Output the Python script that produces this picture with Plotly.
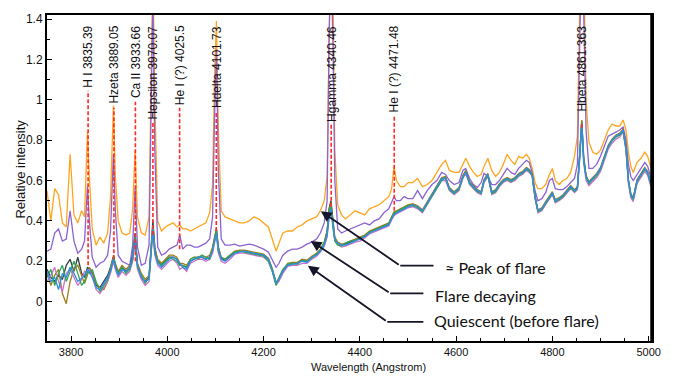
import plotly.graph_objects as go

# ---------------- data ----------------
wavelength = [
    3750, 3758, 3766, 3774, 3782, 3790, 3798, 3806, 3814, 3822,
    3828, 3834, 3838, 3844, 3852, 3860, 3868, 3876, 3882, 3888,
    3892, 3898, 3906, 3914, 3922, 3928, 3933, 3938, 3946, 3954,
    3962, 3966, 3970, 3974, 3980, 3988, 3996, 4004, 4012, 4020,
    4026, 4032, 4040, 4048, 4056, 4064, 4072, 4080, 4088, 4094,
    4098, 4102, 4106, 4112, 4120, 4130, 4140, 4150, 4160, 4170,
    4180, 4190, 4200, 4210, 4218, 4226, 4232, 4240, 4250, 4260,
    4270, 4280, 4290, 4300, 4310, 4318, 4326, 4332, 4336, 4340,
    4344, 4348, 4354, 4362, 4370, 4380, 4390, 4400, 4410, 4420,
    4430, 4440, 4450, 4460, 4466, 4471, 4476, 4484, 4492, 4500,
    4510, 4520, 4530, 4540, 4550, 4560, 4570, 4578, 4586, 4596,
    4606, 4614, 4620, 4628, 4636, 4644, 4652, 4658, 4666, 4674,
    4682, 4690, 4698, 4706, 4714, 4722, 4730, 4738, 4746, 4752,
    4758, 4764, 4770, 4778, 4786, 4794, 4800, 4806, 4814, 4822,
    4830, 4838, 4846, 4852, 4857, 4861, 4865, 4870, 4876, 4884,
    4892, 4900, 4908, 4916, 4924, 4932, 4940, 4947, 4953, 4958,
    4963, 4968, 4976, 4984, 4992, 4998, 5004, 5010,
]

peak_of_flare = [
    0.55, 0.40, 0.56, 0.53, 0.39, 0.37, 0.73, 0.43, 0.39, 0.45,
    0.42, 0.84, 0.62, 0.36, 0.28, 0.32, 0.29, 0.34, 0.52, 0.97,
    0.62, 0.40, 0.34, 0.33, 0.34, 0.46, 0.75, 0.42, 0.34, 0.33,
    0.42, 1.10, 1.65, 1.00, 0.40, 0.35, 0.37, 0.38, 0.39, 0.37,
    0.38, 0.36, 0.36, 0.35, 0.36, 0.37, 0.38, 0.39, 0.44, 0.58,
    1.10, 1.39, 0.85, 0.45, 0.42, 0.41, 0.40, 0.39, 0.39, 0.40,
    0.42, 0.41, 0.39, 0.37, 0.31, 0.25, 0.29, 0.34, 0.35, 0.35,
    0.37, 0.38, 0.40, 0.41, 0.42, 0.45, 0.50, 0.62, 1.50, 1.90,
    1.60, 0.75, 0.48, 0.43, 0.41, 0.43, 0.45, 0.44, 0.43, 0.46,
    0.47, 0.48, 0.50, 0.52, 0.56, 0.67, 0.60, 0.57, 0.57, 0.59,
    0.59, 0.61, 0.57, 0.58, 0.60, 0.64, 0.68, 0.70, 0.65, 0.64,
    0.64, 0.68, 0.71, 0.67, 0.64, 0.62, 0.63, 0.67, 0.71, 0.65,
    0.62, 0.64, 0.68, 0.73, 0.70, 0.68, 0.72, 0.71, 0.73, 0.71,
    0.66, 0.59, 0.56, 0.56, 0.58, 0.63, 0.66, 0.60, 0.58, 0.60,
    0.61, 0.64, 0.72, 0.82, 1.60, 2.00, 1.70, 1.00, 0.79, 0.74,
    0.73, 0.75, 0.80, 0.85, 0.88, 0.87, 0.87, 0.90, 0.85, 0.74,
    0.67, 0.64, 0.69, 0.71, 0.74, 0.72, 0.67, 0.64,
]

flare_decaying = [
    0.25, 0.26, 0.34, 0.36, 0.30, 0.31, 0.45, 0.30, 0.24, 0.26,
    0.30, 0.57, 0.40, 0.22, 0.17, 0.19, 0.20, 0.23, 0.35, 0.73,
    0.45, 0.23, 0.20, 0.19, 0.18, 0.28, 0.56, 0.27, 0.18, 0.19,
    0.28, 0.90, 1.50, 0.75, 0.27, 0.23, 0.24, 0.26, 0.27, 0.28,
    0.33, 0.26, 0.28, 0.28, 0.27, 0.27, 0.28, 0.29, 0.31, 0.42,
    0.90, 1.25, 0.65, 0.31, 0.28, 0.28, 0.285, 0.275, 0.28, 0.285,
    0.28, 0.27, 0.26, 0.245, 0.21, 0.17, 0.19, 0.23, 0.25, 0.26,
    0.26, 0.27, 0.285, 0.295, 0.31, 0.34, 0.39, 0.50, 1.30, 1.70,
    1.30, 0.60, 0.36, 0.34, 0.35, 0.36, 0.37, 0.38, 0.39, 0.38,
    0.40, 0.41, 0.44, 0.46, 0.49, 0.52, 0.50, 0.50, 0.52, 0.51,
    0.51, 0.55, 0.51, 0.55, 0.58, 0.60, 0.64, 0.63, 0.60, 0.58,
    0.59, 0.65, 0.66, 0.61, 0.58, 0.565, 0.59, 0.635, 0.62, 0.58,
    0.58, 0.60, 0.63, 0.66, 0.64, 0.63, 0.66, 0.68, 0.70, 0.69,
    0.64, 0.55, 0.50, 0.51, 0.54, 0.60, 0.61, 0.56, 0.555, 0.555,
    0.57, 0.59, 0.61, 0.68, 1.40, 1.80, 1.45, 0.85, 0.66, 0.66,
    0.68, 0.72, 0.77, 0.82, 0.83, 0.84, 0.85, 0.865, 0.80, 0.68,
    0.62, 0.60, 0.63, 0.66, 0.69, 0.67, 0.62, 0.60,
]

quiescent_blue = [
    0.15, 0.10, 0.12, 0.06, 0.14, 0.12, 0.17, 0.14, 0.10, 0.12,
    0.13, 0.16, 0.15, 0.12, 0.07, 0.06, 0.09, 0.12, 0.15, 0.21,
    0.17, 0.13, 0.16, 0.15, 0.17, 0.22, 0.31, 0.18, 0.12, 0.10,
    0.11, 0.22, 0.36, 0.25, 0.19, 0.17, 0.19, 0.21, 0.22, 0.21,
    0.19, 0.17, 0.16, 0.20, 0.21, 0.22, 0.22, 0.21, 0.22, 0.25,
    0.30, 0.34, 0.26, 0.21, 0.20, 0.22, 0.24, 0.245, 0.25, 0.245,
    0.24, 0.235, 0.23, 0.21, 0.16, 0.09, 0.11, 0.15, 0.18, 0.185,
    0.19, 0.20, 0.195, 0.22, 0.23, 0.25, 0.28, 0.33, 0.42, 0.46,
    0.38, 0.31, 0.29, 0.28, 0.28, 0.29, 0.30, 0.31, 0.32, 0.34,
    0.35, 0.36, 0.37, 0.38, 0.41, 0.43, 0.44, 0.45, 0.46, 0.47,
    0.48, 0.47, 0.45, 0.49, 0.53, 0.57, 0.61, 0.61, 0.56, 0.54,
    0.56, 0.62, 0.64, 0.59, 0.57, 0.55, 0.54, 0.60, 0.63, 0.54,
    0.55, 0.58, 0.60, 0.61, 0.60, 0.61, 0.63, 0.64, 0.66, 0.65,
    0.63, 0.52, 0.45, 0.46, 0.49, 0.52, 0.54, 0.50, 0.51, 0.525,
    0.55, 0.57, 0.55, 0.56, 0.72, 0.88, 0.70, 0.62, 0.59, 0.61,
    0.63, 0.66, 0.71, 0.77, 0.80, 0.82, 0.83, 0.85, 0.76, 0.60,
    0.53, 0.51, 0.60, 0.63, 0.66, 0.64, 0.59, 0.57,
]

quiescent_green = [
    0.12, 0.16, 0.08, 0.14, 0.18, 0.10, 0.15, 0.20, 0.14, 0.08,
    0.10, 0.15, 0.14, 0.16, 0.10, 0.05, 0.08, 0.11, 0.16, 0.22,
    0.18, 0.14, 0.17, 0.14, 0.16, 0.21, 0.33, 0.17, 0.13, 0.09,
    0.12, 0.23, 0.37, 0.24, 0.20, 0.18, 0.20, 0.22, 0.21, 0.20,
    0.18, 0.18, 0.17, 0.21, 0.22, 0.21, 0.23, 0.22, 0.21, 0.26,
    0.31, 0.35, 0.25, 0.22, 0.21, 0.23, 0.245, 0.25, 0.245, 0.24,
    0.235, 0.23, 0.225, 0.20, 0.15, 0.08, 0.12, 0.16, 0.185, 0.19,
    0.185, 0.205, 0.20, 0.215, 0.235, 0.255, 0.29, 0.34, 0.44, 0.48,
    0.37, 0.30, 0.28, 0.275, 0.29, 0.30, 0.305, 0.31, 0.325, 0.345,
    0.355, 0.365, 0.375, 0.385, 0.415, 0.44, 0.445, 0.455, 0.465, 0.475,
    0.475, 0.465, 0.445, 0.485, 0.525, 0.565, 0.60, 0.615, 0.555, 0.535,
    0.555, 0.615, 0.645, 0.585, 0.565, 0.545, 0.535, 0.595, 0.625, 0.535,
    0.545, 0.575, 0.595, 0.605, 0.595, 0.605, 0.625, 0.635, 0.655, 0.645,
    0.625, 0.515, 0.445, 0.455, 0.485, 0.515, 0.535, 0.495, 0.505, 0.52,
    0.545, 0.565, 0.545, 0.565, 0.73, 0.89, 0.71, 0.615, 0.585, 0.605,
    0.625, 0.655, 0.705, 0.765, 0.795, 0.815, 0.825, 0.845, 0.755, 0.595,
    0.525, 0.505, 0.595, 0.625, 0.655, 0.635, 0.585, 0.565,
]

quiescent_magenta = [
    0.10, 0.13, 0.17, 0.10, 0.05, 0.14, 0.16, 0.12, 0.08, 0.11,
    0.15, 0.14, 0.16, 0.13, 0.06, 0.04, 0.07, 0.10, 0.14, 0.20,
    0.16, 0.12, 0.15, 0.13, 0.15, 0.20, 0.30, 0.16, 0.11, 0.08,
    0.10, 0.21, 0.35, 0.23, 0.18, 0.16, 0.18, 0.20, 0.21, 0.19,
    0.16, 0.17, 0.15, 0.19, 0.20, 0.21, 0.21, 0.20, 0.21, 0.24,
    0.29, 0.33, 0.24, 0.20, 0.19, 0.21, 0.235, 0.24, 0.24, 0.235,
    0.23, 0.225, 0.22, 0.20, 0.15, 0.085, 0.10, 0.14, 0.175, 0.18,
    0.18, 0.19, 0.19, 0.21, 0.225, 0.245, 0.275, 0.32, 0.41, 0.45,
    0.37, 0.30, 0.285, 0.27, 0.275, 0.285, 0.295, 0.30, 0.315, 0.335,
    0.345, 0.355, 0.365, 0.375, 0.405, 0.425, 0.435, 0.445, 0.455, 0.465,
    0.47, 0.46, 0.44, 0.48, 0.52, 0.56, 0.60, 0.60, 0.55, 0.53,
    0.55, 0.61, 0.635, 0.58, 0.56, 0.54, 0.53, 0.59, 0.62, 0.53,
    0.54, 0.57, 0.59, 0.60, 0.59, 0.60, 0.62, 0.63, 0.65, 0.64,
    0.62, 0.51, 0.44, 0.45, 0.48, 0.51, 0.53, 0.49, 0.50, 0.515,
    0.54, 0.56, 0.54, 0.555, 0.71, 0.87, 0.69, 0.60, 0.575, 0.595,
    0.615, 0.645, 0.695, 0.755, 0.785, 0.805, 0.815, 0.84, 0.745, 0.585,
    0.515, 0.495, 0.585, 0.615, 0.645, 0.625, 0.575, 0.555,
]

quiescent_olive = [
    0.14, 0.08, 0.13, 0.16, 0.04, -0.01, 0.10, 0.16, 0.18, 0.13,
    0.09, 0.13, 0.17, 0.15, 0.09, 0.07, 0.06, 0.10, 0.17, 0.23,
    0.19, 0.15, 0.18, 0.16, 0.18, 0.21, 0.32, 0.19, 0.14, 0.11,
    0.13, 0.24, 0.38, 0.26, 0.21, 0.19, 0.21, 0.23, 0.23, 0.22,
    0.19, 0.19, 0.18, 0.21, 0.22, 0.22, 0.23, 0.22, 0.23, 0.27,
    0.32, 0.36, 0.27, 0.22, 0.21, 0.23, 0.25, 0.255, 0.255, 0.25,
    0.245, 0.24, 0.235, 0.215, 0.165, 0.095, 0.115, 0.155, 0.19, 0.195,
    0.195, 0.21, 0.205, 0.225, 0.24, 0.26, 0.295, 0.35, 0.45, 0.49,
    0.39, 0.32, 0.295, 0.285, 0.29, 0.30, 0.31, 0.32, 0.33, 0.35,
    0.36, 0.37, 0.38, 0.39, 0.42, 0.445, 0.45, 0.46, 0.47, 0.48,
    0.485, 0.475, 0.455, 0.495, 0.535, 0.575, 0.615, 0.62, 0.565, 0.545,
    0.565, 0.625, 0.65, 0.595, 0.575, 0.555, 0.545, 0.605, 0.635, 0.545,
    0.555, 0.585, 0.605, 0.615, 0.605, 0.615, 0.635, 0.645, 0.665, 0.655,
    0.635, 0.525, 0.455, 0.465, 0.495, 0.525, 0.545, 0.505, 0.515, 0.53,
    0.555, 0.575, 0.555, 0.57, 0.74, 0.90, 0.72, 0.625, 0.595, 0.615,
    0.635, 0.665, 0.715, 0.775, 0.805, 0.825, 0.835, 0.855, 0.765, 0.605,
    0.535, 0.515, 0.605, 0.635, 0.665, 0.645, 0.595, 0.575,
]

quiescent_dark = [
    0.16, 0.12, 0.10, 0.13, 0.11, 0.18, 0.21, 0.15, 0.22, 0.14,
    0.12, 0.17, 0.16, 0.14, 0.08, 0.07, 0.10, 0.13, 0.17, 0.22,
    0.18, 0.14, 0.17, 0.15, 0.17, 0.23, 0.34, 0.18, 0.12, 0.10,
    0.12, 0.25, 0.40, 0.27, 0.20, 0.18, 0.20, 0.22, 0.22, 0.21,
    0.18, 0.18, 0.17, 0.20, 0.21, 0.22, 0.22, 0.21, 0.22, 0.26,
    0.31, 0.36, 0.27, 0.215, 0.205, 0.225, 0.245, 0.25, 0.25, 0.245,
    0.24, 0.235, 0.23, 0.21, 0.16, 0.09, 0.11, 0.15, 0.185, 0.19,
    0.19, 0.205, 0.20, 0.22, 0.235, 0.255, 0.29, 0.35, 0.46, 0.50,
    0.39, 0.31, 0.29, 0.28, 0.285, 0.295, 0.305, 0.315, 0.325, 0.345,
    0.355, 0.365, 0.375, 0.385, 0.415, 0.435, 0.445, 0.455, 0.465, 0.475,
    0.48, 0.47, 0.45, 0.49, 0.53, 0.57, 0.61, 0.615, 0.56, 0.54,
    0.56, 0.62, 0.645, 0.59, 0.57, 0.55, 0.54, 0.60, 0.63, 0.54,
    0.55, 0.58, 0.60, 0.61, 0.60, 0.61, 0.63, 0.64, 0.66, 0.65,
    0.63, 0.52, 0.45, 0.46, 0.49, 0.52, 0.54, 0.50, 0.51, 0.525,
    0.55, 0.57, 0.55, 0.565, 0.735, 0.895, 0.715, 0.62, 0.59, 0.61,
    0.63, 0.66, 0.71, 0.77, 0.80, 0.82, 0.83, 0.85, 0.76, 0.60,
    0.53, 0.51, 0.60, 0.63, 0.66, 0.64, 0.59, 0.57,
]

line_labels = ["H I 3835.39", "Hzeta 3889.05", "Ca II 3933.66", "Hepsilon 3970.07",
               "He I (?) 4025.5", "Hdelta 4101.73", "Hgamma 4340.46",
               "He I (?) 4471.48", "Hbeta 4861.363"]
line_wavelengths = [3835.39, 3889.05, 3933.66, 3970.07, 4025.5, 4101.73,
                    4340.46, 4471.48, 4861.363]
marker_bottom = [0.18, 0.21, 0.20, 0.33, 0.26, 0.35, 0.47, 0.45, 0.86]
marker_top = [1.045, 0.96, 0.99, 0.885, 0.96, 0.94, 0.885, 0.92, 0.885]

x_ticks = [3800, 4000, 4200, 4400, 4600, 4800, 5000]
y_ticks = [0, 0.2, 0.4, 0.6, 0.8, 1, 1.2, 1.4]

series = [
    ("Peak of flare", peak_of_flare, "#ffa51f"),
    ("Flare decaying", flare_decaying, "#8c63d2"),
    ("Quiescent 5", quiescent_dark, "#2d403f"),
    ("Quiescent 1", quiescent_olive, "#a07d1c"),
    ("Quiescent 2", quiescent_magenta, "#cc6fcc"),
    ("Quiescent 3", quiescent_green, "#2ea35a"),
    ("Quiescent 4", quiescent_blue, "#2b8fe3"),
]

for name, vals, _ in series:
    if len(vals) != len(wavelength):
        raise ValueError(f"{name}: {len(vals)} vs {len(wavelength)}")

fig = go.Figure()

for name, vals, color in series:
    fig.add_trace(go.Scatter(x=wavelength, y=vals, mode="lines", name=name,
                             line=dict(color=color, width=1.3), hoverinfo="skip",
                             showlegend=False))

for lam, y0, y1 in zip(line_wavelengths, marker_bottom, marker_top):
    fig.add_trace(go.Scatter(x=[lam, lam], y=[y0, y1], mode="lines",
                             line=dict(color="#ff2a2a", width=1.6, dash="4px,2px"),
                             hoverinfo="skip", showlegend=False))

annotations = []
for lab, lam in zip(line_labels, line_wavelengths):
    annotations.append(dict(x=lam, y=1.372, xref="x", yref="y", text=lab,
                            textangle=-90, xanchor="center", yanchor="top",
                            showarrow=False, borderpad=0,
                            font=dict(family="Liberation Sans, Arial, sans-serif",
                                      size=12, color="#111111")))

# axis titles
annotations.append(dict(x=-0.043, y=0.529, xref="paper", yref="paper",
                        text="Relative intensity", textangle=-90, showarrow=False,
                        xanchor="center", yanchor="middle",
                        font=dict(family="Liberation Sans, Arial, sans-serif",
                                  size=13, color="#111111")))
annotations.append(dict(x=0.531, y=-0.08, xref="paper", yref="paper",
                        text="Wavelength (Angstrom)", showarrow=False,
                        xanchor="center", yanchor="middle",
                        font=dict(family="Liberation Sans, Arial, sans-serif",
                                  size=11, color="#111111")))

# callouts: (text, text_x, text_y, tip_x, tip_y, corner_x, corner_y, end_x)
callouts = [
    ("≈ Peak of flare", 4573, 0.170, 4319, 0.448, 4484, 0.178, 4553),
    ("Flare decaying", 4553, 0.031, 4298, 0.301, 4463, 0.041, 4532),
    ("Quiescent (before flare)", 4549, -0.092, 4292, 0.178, 4457, -0.100, 4532),
]
shapes = []
arrow_col = "#15152a"
for txt, tx, ty, px, py, cx, cy, ex in callouts:
    annotations.append(dict(x=tx, y=ty, xref="x", yref="y", text=txt,
                            showarrow=False, xanchor="left", yanchor="middle",
                            font=dict(family="Lato, Carlito, sans-serif", size=16,
                                      color="#111111")))
    annotations.append(dict(x=px, y=py, xref="x", yref="y", ax=cx, ay=cy,
                            axref="x", ayref="y", text="", showarrow=True,
                            arrowhead=2, arrowsize=1.2, arrowwidth=1.8,
                            arrowcolor=arrow_col))
    shapes.append(dict(type="line", xref="x", yref="y", x0=cx, x1=ex, y0=cy, y1=cy,
                       line=dict(color=arrow_col, width=1.8)))

# thick right frame edge
shapes.append(dict(type="line", xref="paper", yref="paper", x0=1, x1=1, y0=0, y1=1,
                   line=dict(color="black", width=3.5)))

tick_font = dict(family="Liberation Sans, Arial, sans-serif", size=11, color="#111111")

fig.update_layout(
    width=673, height=377,
    margin=dict(l=47, r=16, t=12, b=36),
    paper_bgcolor="white", plot_bgcolor="white",
    annotations=annotations, shapes=shapes,
    xaxis=dict(range=[3750, 5007], tickmode="array", tickvals=x_ticks,
               ticks="inside", ticklen=5, tickwidth=1, tickcolor="black",
               minor=dict(tickmode="linear", tick0=3750, dtick=50, ticks="inside",
                          ticklen=3, tickcolor="black"),
               showline=True, linecolor="black", linewidth=2, mirror=True,
               showgrid=False, zeroline=False, tickfont=tick_font),
    yaxis=dict(range=[-0.195, 1.42], tickmode="array", tickvals=y_ticks,
               ticktext=[str(v) for v in y_ticks],
               ticks="inside", ticklen=5, tickwidth=1, tickcolor="black",
               minor=dict(tickmode="linear", tick0=0, dtick=0.1, ticks="inside",
                          ticklen=3, tickcolor="black"),
               showline=True, linecolor="black", linewidth=2, mirror=True,
               showgrid=False, zeroline=False,
               tickfont=dict(family="Liberation Sans, Arial, sans-serif", size=12,
                             color="#111111")),
)

fig.write_html("out.html")
